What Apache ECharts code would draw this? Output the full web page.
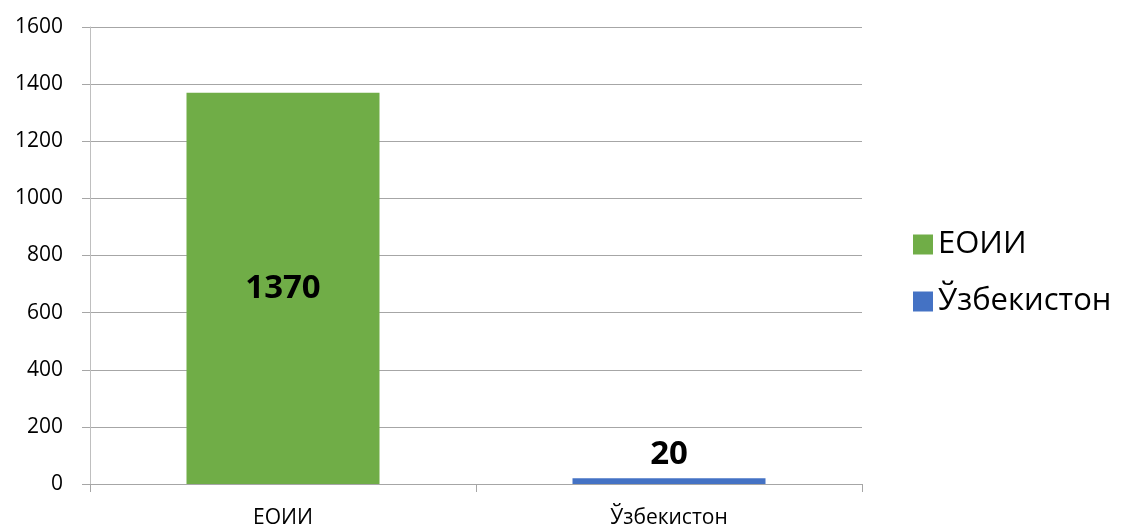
<!DOCTYPE html>
<html>
<head>
<meta charset="utf-8">
<script src="https://cdn.jsdelivr.net/npm/echarts@6/dist/echarts.min.js"></script>
<style>
  html, body {margin: 0; padding: 0; background: #fff;}
  #chart {width: 1121px; height: 529px;}
</style>
</head>
<body>
<div id="chart"></div>
<script>
var categories = ['ЕОИИ', 'Ўзбекистон'];
var seriesNames = ['ЕОИИ', 'Ўзбекистон'];
var eoiiValues = [1370, '-'];
var uzbValues = ['-', 20];
var seriesColors = ['#70AD47', '#4472C4'];

var font = '"Open Sans", "DejaVu Sans", sans-serif';
var chart = echarts.init(document.getElementById('chart'));

var option = {
    animation: false,
    textStyle: {fontFamily: font},
    grid: {left: 90, right: 259, top: 27, bottom: 43},
    legend: {
        orient: 'vertical', left: 908, top: 224,
        itemWidth: 20, itemHeight: 20, itemGap: 26,
        icon: 'rect',
        textStyle: {fontSize: 31, color: '#000', fontFamily: font},
        data: seriesNames
    },
    xAxis: {
        type: 'category', data: categories,
        axisLine: {lineStyle: {color: '#A6A6A6'}},
        axisTick: {show: true, length: 8, lineStyle: {color: '#A6A6A6'}},
        axisLabel: {fontSize: 21, color: '#000', margin: 24}
    },
    yAxis: {
        type: 'value', min: 0, max: 1600, interval: 200,
        axisLine: {show: true, lineStyle: {color: '#BFBFBF'}},
        axisTick: {show: true, length: 8, lineStyle: {color: '#A6A6A6'}},
        axisLabel: {fontSize: 21, color: '#000', margin: 27, formatter: function (v) { return String(v); }},
        splitLine: {lineStyle: {color: '#A6A6A6'}}
    },
    series: [{
        name: seriesNames[0], type: 'bar', stack: 'all', barWidth: '50%',
        data: eoiiValues,
        itemStyle: {color: seriesColors[0]},
        label: {show: true, position: 'inside', fontSize: 33, fontWeight: 'bold', color: '#000'}
    }, {
        name: seriesNames[1], type: 'bar', stack: 'all', barWidth: '50%',
        data: uzbValues,
        itemStyle: {color: seriesColors[1]},
        label: {show: true, position: 'top', distance: 7, fontSize: 33, fontWeight: 'bold', color: '#000'}
    }]
};
chart.setOption(option);
</script>
</body>
</html>
